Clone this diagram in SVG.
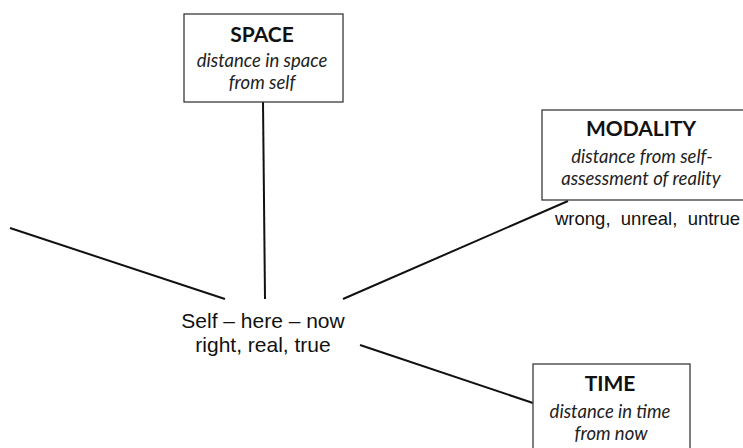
<svg xmlns="http://www.w3.org/2000/svg" width="743" height="448" viewBox="0 0 743 448">
  <style>
    .box { fill: #ffffff; stroke: #3a3a3a; stroke-width: 1.3; }
    .link { stroke: #111111; stroke-width: 2; fill: none; stroke-linecap: butt; }
    .title { font-family: Lato, "Open Sans", sans-serif; font-weight: bold; font-size: 21px; fill: #111; text-anchor: middle; }
    .desc { font-family: Lato, "Open Sans", sans-serif; font-style: italic; font-size: 18.5px; fill: #222; text-anchor: middle; }
    .plain { font-family: "Liberation Sans", Arial, sans-serif; fill: #111; }
  </style>
  <rect width="743" height="448" fill="#ffffff"/>

  <!-- connectors radiating from the centre -->
  <g id="connectors">
    <line class="link" x1="263" y1="102" x2="265" y2="299"/>
    <line class="link" x1="10" y1="228" x2="225" y2="299"/>
    <line class="link" x1="343" y1="299" x2="568" y2="201"/>
    <line class="link" x1="360" y1="345" x2="533" y2="403"/>
  </g>

  <g id="centre">
    <text class="plain" font-size="21" text-anchor="middle" x="263" y="328">Self – here – now</text>
    <text class="plain" font-size="21" text-anchor="middle" x="263" y="352">right, real, true</text>
  </g>

  <g id="space">
    <rect class="box" x="184" y="14" width="159" height="88"/>
    <text class="title" x="262" y="41.5">SPACE</text>
    <text class="desc" x="262" y="66.5">distance in space</text>
    <text class="desc" x="262" y="89">from self</text>
  </g>

  <g id="modality">
    <rect class="box" x="542" y="110" width="210" height="90"/>
    <text class="title" x="641" y="136" font-size="20">MODALITY</text>
    <text class="desc" x="642" y="163">distance from self-</text>
    <text class="desc" x="641" y="185">assessment of reality</text>
    <text class="plain" font-size="18.5" x="555" y="225" xml:space="preserve">wrong,  unreal,  untrue</text>
  </g>

  <g id="time">
    <rect class="box" x="533" y="364" width="157" height="100"/>
    <text class="title" x="610" y="391">TIME</text>
    <text class="desc" x="610" y="417.5" font-size="20">distance in time</text>
    <text class="desc" x="611" y="440" font-size="20">from now</text>
  </g>
</svg>
